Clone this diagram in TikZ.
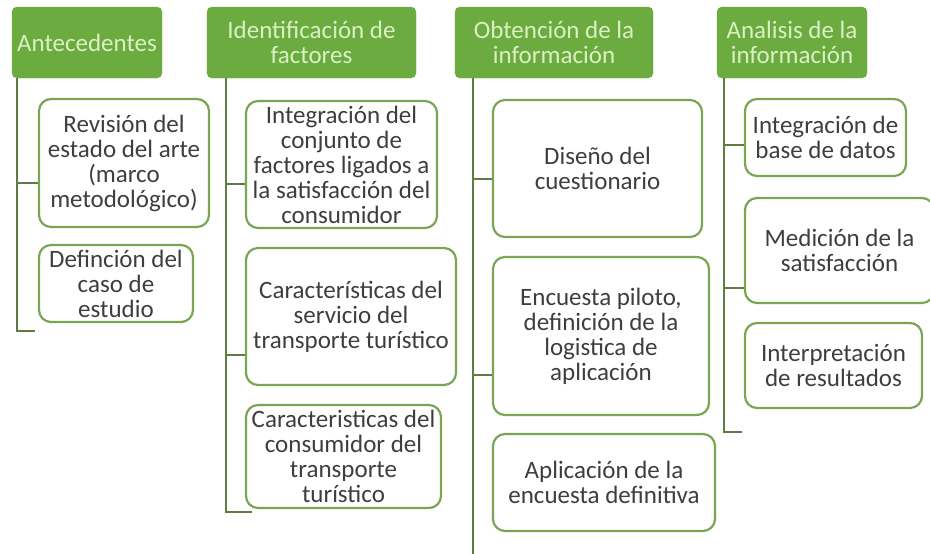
\documentclass[tikz,border=0pt]{standalone}
\usepackage{fontspec}
\setmainfont{Carlito}
\definecolor{verdecab}{RGB}{108,171,64}
\definecolor{textocab}{RGB}{218,241,196}
\definecolor{bordecaja}{RGB}{122,166,84}
\definecolor{verderama}{RGB}{96,124,66}
\definecolor{textocaja}{RGB}{62,62,62}
\begin{document}
\begin{tikzpicture}[x=1pt,y=-1pt,
  cabecera/.style={fill=verdecab, draw=verdecab, rounded corners=5pt, text=textocab,
    align=center, minimum height=71pt, inner sep=0pt, font=\fontsize{25}{25}\selectfont},
  caja/.style={draw=bordecaja, line width=2.2pt, fill=white, rounded corners=12pt, text=textocaja,
    align=center, inner sep=0pt, font=\fontsize{25}{25}\selectfont},
  rama/.style={draw=verderama, line width=2.4pt}]
  \useasboundingbox (0,0) rectangle (930,554);
  % Antecedentes
  \node[cabecera, minimum width=150pt] (h1) at (87,42.5) {Antecedentes};
  \node[caja, minimum width=170pt, minimum height=128pt] (b11) at (124,163) {Revisión del\\estado del arte\\(marco\\metodológico)};
  \node[caja, minimum width=154pt, minimum height=77pt] (b12) at (116,283.5) {Definción del\\caso de\\estudio};
  \coordinate (t1) at ([xshift=5pt]h1.south west);
  \coordinate (f1) at (35,331);
  \draw[rama] (t1) |- (f1);
  \draw[rama] (t1 |- 0,183) -- (b11.west |- 0,183);
  % Identificacion de factores
  \node[cabecera, minimum width=209pt] (h2) at (311.5,42.5) {Identificación de\\factores};
  \node[caja, minimum width=191pt, minimum height=127pt] (b21) at (341.5,164.5) {Integración del\\conjunto de\\factores ligados a\\la satisfacción del\\consumidor};
  \node[caja, minimum width=210pt, minimum height=137pt] (b22) at (351,316.5) {Características del\\servicio del\\transporte turístico};
  \node[caja, minimum width=195pt, minimum height=103pt] (b23) at (343.5,456.5) {Caracteristicas del\\consumidor del\\transporte\\turístico};
  \coordinate (t2) at ([xshift=19pt]h2.south west);
  \coordinate (f2) at (252,512);
  \draw[rama] (t2) |- (f2);
  \draw[rama] (t2 |- 0,184) -- (b21.west |- 0,184);
  \draw[rama] (t2 |- 0,355) -- (b22.west |- 0,355);
  % Obtencion de la informacion
  \node[cabecera, minimum width=198pt] (h3) at (554,42.5) {Obtención de la\\información};
  \node[caja, minimum width=209pt, minimum height=137pt] (b31) at (597.5,168.5) {Diseño del\\cuestionario};
  \node[caja, minimum width=216pt, minimum height=158pt] (b32) at (601,336) {Encuesta piloto,\\definición de la\\logistica de\\aplicación};
  \node[caja, minimum width=222pt, minimum height=97pt] (b33) at (604,482.5) {Aplicación de la\\encuesta definitiva};
  \coordinate (t3) at ([xshift=18pt]h3.south west);
  \coordinate (f3) at (473,556);
  \draw[rama] (t3) -- (t3 |- f3);
  \draw[rama] (t3 |- 0,179) -- (b31.west |- 0,179);
  \draw[rama] (t3 |- 0,375) -- (b32.west |- 0,375);
  % Analisis de la informacion
  \node[cabecera, minimum width=150pt] (h4) at (792,42.5) {Analisis de la\\información};
  \node[caja, minimum width=161pt, minimum height=77pt] (b41) at (825.5,137.5) {Integración de\\base de datos};
  \node[caja, minimum width=189pt, minimum height=105pt] (b42) at (839.5,250.5) {Medición de la\\satisfacción};
  \node[caja, minimum width=177pt, minimum height=85pt] (b43) at (833.5,365.5) {Interpretación\\de resultados};
  \coordinate (t4) at ([xshift=7pt]h4.south west);
  \coordinate (f4) at (742,432);
  \draw[rama] (t4) |- (f4);
  \draw[rama] (t4 |- 0,145) -- (b41.west |- 0,145);
  \draw[rama] (t4 |- 0,288) -- (b42.west |- 0,288);
\end{tikzpicture}
\end{document}
